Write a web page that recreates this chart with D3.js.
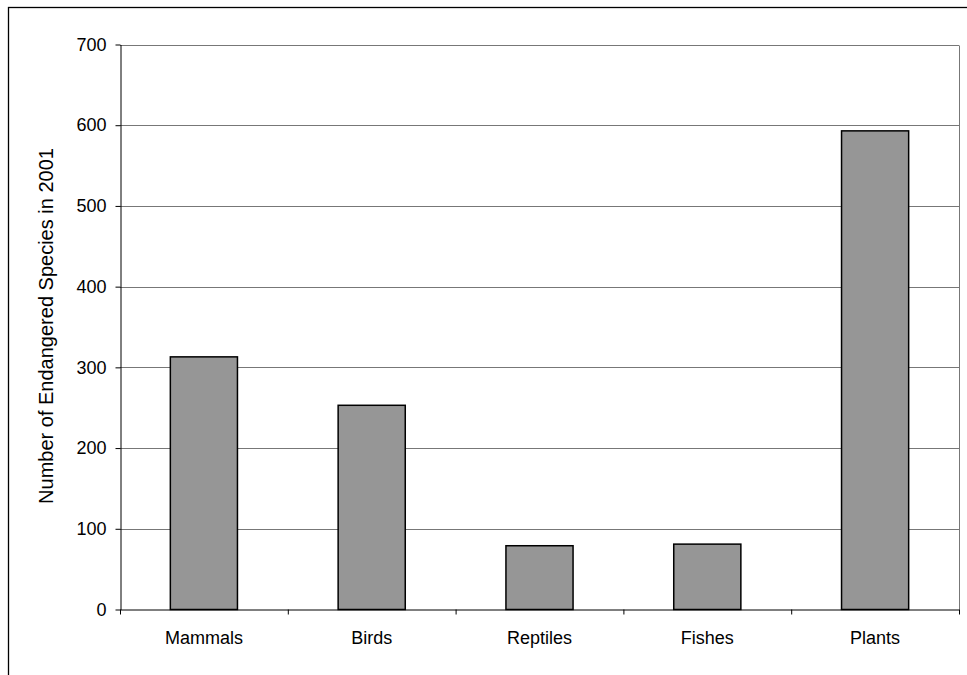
<!DOCTYPE html>
<html>
<head>
<meta charset="utf-8">
<script src="https://cdn.jsdelivr.net/npm/d3@7"></script>
<style>
  html, body { margin: 0; padding: 0; background: #fff; }
  svg { display: block; font-family: Arial, "Liberation Sans", sans-serif; }
</style>
</head>
<body>
<svg id="chart" width="967" height="675"></svg>
<script>
// Endangered species counts by group, 2001
const categories = ["Mammals", "Birds", "Reptiles", "Fishes", "Plants"];
const counts = [313, 253, 79, 81, 593];
const yTicks = [0, 100, 200, 300, 400, 500, 600, 700];
const yLabel = "Number of Endangered Species in 2001";

const svg = d3.select("#chart");
const plot = { left: 120, right: 959, top: 44.5, bottom: 609.5 };

// Outer chart frame
svg.append("rect")
  .attr("x", 8.5).attr("y", 7.5)
  .attr("width", 1000).attr("height", 1000)
  .attr("fill", "none").attr("stroke", "#000").attr("stroke-width", 1.3);

const x = d3.scaleBand()
  .domain(categories)
  .range([plot.left, plot.right])
  .paddingInner(0.6).paddingOuter(0.3);

const xBounds = d3.scaleLinear()
  .domain([0, categories.length])
  .range([plot.left, plot.right]);

const y = d3.scaleLinear()
  .domain([0, 700])
  .range([plot.bottom, plot.top]);

// Horizontal gridlines
svg.append("g")
  .selectAll("line")
  .data(yTicks.filter(d => d > 0))
  .join("line")
  .attr("x1", plot.left).attr("x2", plot.right)
  .attr("y1", d => Math.round(y(d)) + 0.5).attr("y2", d => Math.round(y(d)) + 0.5)
  .attr("stroke", "#777").attr("stroke-width", 1);

// Right edge of plot area
svg.append("line")
  .attr("x1", plot.right + 0.5).attr("x2", plot.right + 0.5)
  .attr("y1", Math.round(y(700)) + 0.5).attr("y2", plot.bottom)
  .attr("stroke", "#777");

// Bars
svg.append("g")
  .selectAll("rect")
  .data(categories.map((c, i) => ({ c, v: counts[i] })))
  .join("rect")
  .attr("x", d => x(d.c))
  .attr("y", d => y(d.v))
  .attr("width", x.bandwidth())
  .attr("height", d => y(0) - y(d.v))
  .attr("fill", "#969696")
  .attr("stroke", "#000")
  .attr("stroke-width", 1.5);

// Y axis
const yAxis = svg.append("g")
  .attr("transform", `translate(${plot.left + 0.5},0)`)
  .call(d3.axisLeft(y).tickValues(yTicks).tickSizeInner(5).tickSizeOuter(0).tickPadding(9));
yAxis.select(".domain").attr("stroke", "#000");
yAxis.selectAll(".tick line").attr("stroke", "#000");
yAxis.selectAll(".tick text")
  .attr("font-size", 18).attr("font-family", "Arial, 'Liberation Sans', sans-serif")
  .attr("fill", "#000");

// X axis baseline with ticks on category boundaries
const xAxis = svg.append("g")
  .attr("transform", `translate(0,${plot.bottom})`)
  .call(d3.axisBottom(xBounds).tickValues(d3.range(categories.length + 1))
    .tickSizeInner(5).tickSizeOuter(0).tickFormat(""));
xAxis.select(".domain").attr("stroke", "#000");
xAxis.selectAll(".tick line").attr("stroke", "#000");

// Category labels
svg.append("g")
  .selectAll("text")
  .data(categories)
  .join("text")
  .attr("x", d => x(d) + x.bandwidth() / 2)
  .attr("y", 644)
  .attr("text-anchor", "middle")
  .attr("font-size", 18)
  .attr("fill", "#000")
  .text(d => d);

// Y axis title
svg.append("text")
  .attr("transform", `translate(53,${(148 + 504) / 2}) rotate(-90)`)
  .attr("text-anchor", "middle")
  .attr("font-size", 20)
  .attr("fill", "#000")
  .text(yLabel);
</script>
</body>
</html>
